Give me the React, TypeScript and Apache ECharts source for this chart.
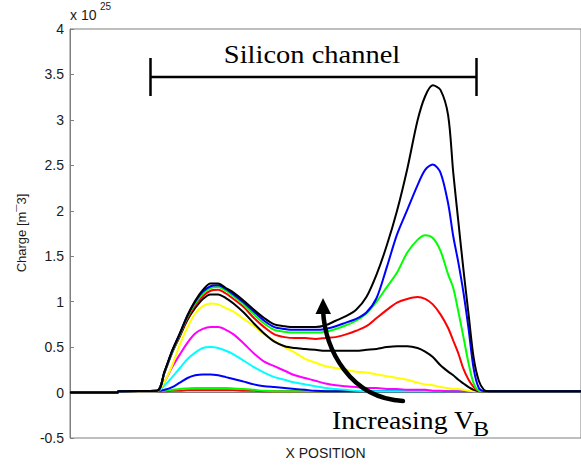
import React, { useEffect, useRef } from "react";
import * as echarts from "echarts";

// Position along the device (arbitrary units, 0..100)
const POSITION = [
  0, 9.3, 9.5, 17, 18.5, 20, 21.5, 23, 24.5, 26,
  27.5, 29, 30.5, 32, 34, 36, 38, 40, 42, 44,
  46, 48, 50, 52, 54, 56, 58, 60, 62, 64,
  66, 68, 69.5, 71, 72.5, 74, 75, 76, 77, 78,
  79, 80, 81, 82, 84, 100,
];

// Charge density profiles, in units of 1e25 m^-3, lowest bias first
const R1 = [
  0, 0, 0.015, 0.015, 0.015, 0.02, 0.02, 0.025, 0.025, 0.025,
  0.025, 0.025, 0.025, 0.025, 0.02, 0.02, 0.015, 0.015, 0.015, 0.015,
  0.015, 0.015, 0.015, 0.015, 0.015, 0.015, 0.015, 0.015, 0.015, 0.015,
  0.015, 0.015, 0.015, 0.015, 0.015, 0.015, 0.015, 0.015, 0.015, 0.015,
  0.015, 0.015, 0.015, 0.015, 0.015, 0.015,
];
const G1 = [
  0, 0, 0.015, 0.015, 0.02, 0.03, 0.04, 0.045, 0.05, 0.05,
  0.05, 0.05, 0.05, 0.045, 0.04, 0.03, 0.02, 0.015, 0.015, 0.015,
  0.015, 0.015, 0.015, 0.015, 0.015, 0.015, 0.015, 0.015, 0.015, 0.015,
  0.015, 0.015, 0.015, 0.015, 0.015, 0.015, 0.015, 0.015, 0.015, 0.015,
  0.015, 0.015, 0.015, 0.015, 0.015, 0.015,
];
const B1 = [
  0, 0, 0.015, 0.015, 0.03, 0.06, 0.11, 0.16, 0.19, 0.2,
  0.2, 0.19, 0.17, 0.15, 0.12, 0.09, 0.07, 0.06, 0.05, 0.04,
  0.03, 0.02, 0.015, 0.015, 0.015, 0.015, 0.015, 0.015, 0.015, 0.015,
  0.015, 0.015, 0.015, 0.015, 0.015, 0.015, 0.015, 0.015, 0.015, 0.015,
  0.015, 0.015, 0.015, 0.015, 0.015, 0.015,
];
const C1 = [
  0, 0, 0.015, 0.015, 0.08, 0.17, 0.27, 0.37, 0.44, 0.49,
  0.5, 0.49, 0.46, 0.42, 0.35, 0.28, 0.22, 0.17, 0.14, 0.11,
  0.09, 0.07, 0.05, 0.04, 0.03, 0.02, 0.015, 0.015, 0.015, 0.015,
  0.015, 0.015, 0.015, 0.015, 0.015, 0.015, 0.015, 0.015, 0.015, 0.015,
  0.015, 0.015, 0.015, 0.015, 0.015, 0.015,
];
const M1 = [
  0, 0, 0.015, 0.015, 0.12, 0.28, 0.42, 0.55, 0.65, 0.7,
  0.72, 0.72, 0.69, 0.64, 0.54, 0.43, 0.34, 0.29, 0.24, 0.19,
  0.16, 0.13, 0.1, 0.08, 0.07, 0.06, 0.05, 0.05, 0.04, 0.04,
  0.03, 0.03, 0.03, 0.02, 0.02, 0.015, 0.015, 0.015, 0.015, 0.015,
  0.015, 0.015, 0.015, 0.015, 0.015, 0.015,
];
const Y1 = [
  0, 0, 0.015, 0.015, 0.12, 0.3, 0.53, 0.72, 0.87, 0.95,
  0.98, 0.97, 0.93, 0.89, 0.81, 0.73, 0.64, 0.57, 0.5, 0.44,
  0.37, 0.33, 0.29, 0.27, 0.25, 0.23, 0.22, 0.2, 0.18, 0.16,
  0.14, 0.11, 0.09, 0.08, 0.06, 0.05, 0.04, 0.04, 0.03, 0.02,
  0.015, 0.015, 0.015, 0.015, 0.015, 0.015,
];
const K1 = [
  0, 0, 0.015, 0.02, 0.22, 0.44, 0.62, 0.8, 0.93, 1.03,
  1.08, 1.08, 1.04, 0.98, 0.88, 0.76, 0.65, 0.56, 0.51, 0.49,
  0.48, 0.47, 0.46, 0.46, 0.46, 0.46, 0.47, 0.48, 0.5, 0.51,
  0.51, 0.49, 0.45, 0.39, 0.3, 0.23, 0.19, 0.14, 0.1, 0.06,
  0.03, 0.015, 0.015, 0.015, 0.015, 0.015,
];
const R2 = [
  0, 0, 0.015, 0.02, 0.23, 0.45, 0.63, 0.82, 0.96, 1.06,
  1.12, 1.13, 1.09, 1.03, 0.94, 0.82, 0.72, 0.64, 0.61, 0.6,
  0.6, 0.59, 0.6, 0.61, 0.64, 0.68, 0.73, 0.82, 0.91, 0.99,
  1.03, 1.05, 1.03, 0.97, 0.86, 0.71, 0.57, 0.43, 0.26, 0.14,
  0.06, 0.02, 0.015, 0.015, 0.015, 0.015,
];
const G2 = [
  0, 0, 0.015, 0.02, 0.23, 0.45, 0.64, 0.84, 0.98, 1.09,
  1.15, 1.16, 1.12, 1.06, 0.97, 0.86, 0.76, 0.69, 0.67, 0.66,
  0.66, 0.66, 0.67, 0.7, 0.74, 0.79, 0.87, 1.0, 1.16, 1.32,
  1.54, 1.68, 1.73, 1.7, 1.56, 1.3, 1.15, 0.89, 0.61, 0.32,
  0.1, 0.02, 0.015, 0.015, 0.015, 0.015,
];
const B2 = [
  0, 0, 0.015, 0.02, 0.23, 0.46, 0.65, 0.85, 1.0, 1.11,
  1.17, 1.18, 1.14, 1.08, 0.99, 0.89, 0.79, 0.72, 0.7, 0.69,
  0.69, 0.69, 0.7, 0.73, 0.77, 0.81, 0.88, 1.04, 1.38, 1.74,
  2.01, 2.28, 2.45, 2.51, 2.42, 2.08, 1.72, 1.43, 1.1, 0.7,
  0.26, 0.05, 0.015, 0.015, 0.015, 0.015,
];
const K2 = [
  0, 0, 0.015, 0.02, 0.23, 0.46, 0.65, 0.85, 1.01, 1.13,
  1.2, 1.2, 1.15, 1.1, 1.01, 0.91, 0.82, 0.75, 0.73, 0.72,
  0.72, 0.72, 0.74, 0.79, 0.84, 0.91, 1.05, 1.3, 1.62, 2.0,
  2.46, 2.99, 3.26, 3.38, 3.33, 3.05, 2.42, 1.88, 1.35, 0.86,
  0.38, 0.13, 0.03, 0.015, 0.015, 0.015,
];

const PROFILES = [R1, G1, B1, C1, M1, Y1, K1, R2, G2, B2, K2];
const PROFILE_COLORS = [
  "#ff0000", "#00ff00", "#0000ff", "#00ffff", "#ff00ff", "#ffff00",
  "#000000", "#ff0000", "#00ff00", "#0000ff", "#000000",
];

const Y_MIN = -0.5;
const Y_MAX = 4;
const Y_STEP = 0.5;

const SANS = 'Arial, "Liberation Sans", sans-serif';
const SERIF = '"Times New Roman", "Liberation Serif", serif';

export default function App() {
  const ref = useRef<HTMLDivElement>(null);

  useEffect(() => {
    if (!ref.current) return;
    const chart = echarts.init(ref.current, null, { renderer: "svg" });

    const series = PROFILES.map((vals, i) => ({
      type: "line",
      data: POSITION.map((x, j) => [x, vals[j]]),
      showSymbol: false,
      smooth: 0.3,
      lineStyle: { color: PROFILE_COLORS[i], width: 2 },
      itemStyle: { color: PROFILE_COLORS[i] },
      z: 2 + i,
      silent: true,
    }));

    chart.setOption({
      animation: false,
      backgroundColor: "#ffffff",
      grid: {
        left: 70,
        top: 29,
        bottom: 29,
        right: -3,
        show: true,
        borderColor: "#7f7f7f",
        borderWidth: 1,
      },
      xAxis: {
        type: "value",
        min: 0,
        max: 100,
        name: "X POSITION",
        nameLocation: "middle",
        nameGap: 8,
        nameTextStyle: { fontFamily: SANS, fontSize: 14, color: "#1a1a1a" },
        axisLine: { show: true, lineStyle: { color: "#7f7f7f", width: 1 } },
        axisTick: { show: false },
        axisLabel: { show: false },
        splitLine: { show: false },
      },
      yAxis: {
        type: "value",
        min: Y_MIN,
        max: Y_MAX,
        interval: Y_STEP,
        axisLine: { show: true, lineStyle: { color: "#7f7f7f", width: 1 } },
        axisTick: { show: true, inside: true, length: 4, lineStyle: { color: "#7f7f7f" } },
        axisLabel: { fontFamily: SANS, fontSize: 14, color: "#1a1a1a", margin: 6 },
        splitLine: { show: false },
      },
      series,
      graphic: [
        {
          type: "text",
          x: 21,
          y: 233,
          rotation: Math.PI / 2,
          style: {
            text: "Charge [m\u00AF3]",
            font: `13px ${SANS}`,
            fill: "#1a1a1a",
            align: "center",
            verticalAlign: "middle",
          },
        },
        {
          type: "text",
          x: 70,
          y: 15,
          style: { text: "x 10", font: `14px ${SANS}`, fill: "#1a1a1a", align: "left", verticalAlign: "middle" },
        },
        {
          type: "text",
          x: 100,
          y: 6,
          style: { text: "25", font: `10px ${SANS}`, fill: "#1a1a1a", align: "left", verticalAlign: "middle" },
        },
        {
          type: "text",
          x: 312,
          y: 55,
          scaleX: 1.14,
          style: { text: "Silicon channel", font: `25px ${SERIF}`, fill: "#000", align: "center", verticalAlign: "middle" },
        },
        { type: "line", shape: { x1: 150, y1: 77, x2: 477, y2: 77 }, style: { stroke: "#000", lineWidth: 2.5 } },
        { type: "line", shape: { x1: 150.5, y1: 58, x2: 150.5, y2: 96 }, style: { stroke: "#000", lineWidth: 2.5 } },
        { type: "line", shape: { x1: 476.5, y1: 58, x2: 476.5, y2: 96 }, style: { stroke: "#000", lineWidth: 2.5 } },
        {
          type: "bezierCurve",
          z: 100,
          shape: { x1: 323, y1: 310, cpx1: 325, cpy1: 350, cpx2: 350, cpy2: 398, x2: 403, y2: 401 },
          style: { stroke: "#000", lineWidth: 4.5, fill: null, lineCap: "round" },
        },
        {
          type: "polygon",
          z: 100,
          shape: { points: [[323, 298], [315.5, 314], [331, 314]] },
          style: { fill: "#000" },
        },
        {
          type: "text",
          x: 332,
          y: 420,
          scaleX: 1.11,
          z: 100,
          style: { text: "Increasing V", font: `25px ${SERIF}`, fill: "#000", align: "left", verticalAlign: "middle" },
        },
        {
          type: "text",
          x: 473,
          y: 428,
          scaleX: 1.1,
          z: 100,
          style: { text: "B", font: `22px ${SERIF}`, fill: "#000", align: "left", verticalAlign: "middle" },
        },
      ],
    });

    return () => chart.dispose();
  }, []);

  return (
    <div
      ref={ref}
      style={{ position: "fixed", left: 0, top: 0, width: 581, height: 467, background: "#fff" }}
    />
  );
}
